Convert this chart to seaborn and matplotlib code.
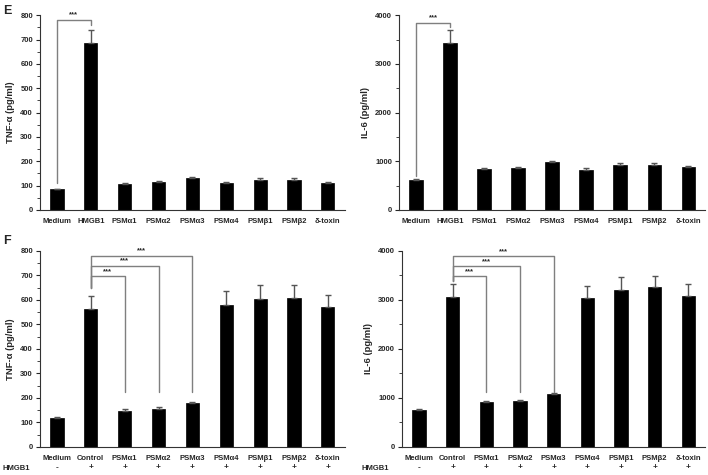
import numpy as np
import pandas as pd
import matplotlib
matplotlib.use('Agg')
import matplotlib.pyplot as plt
from matplotlib.ticker import MultipleLocator
import seaborn as sns

# categories
cats_e = ['Medium', 'HMGB1', 'PSMα1', 'PSMα2', 'PSMα3', 'PSMα4', 'PSMβ1', 'PSMβ2', 'δ-toxin']
cats_f = ['Medium', 'Control', 'PSMα1', 'PSMα2', 'PSMα3', 'PSMα4', 'PSMβ1', 'PSMβ2', 'δ-toxin']
hmgb1_row = ['-', '+', '+', '+', '+', '+', '+', '+', '+']

# panel E values (mean, upper error)
tnf_e = [85, 685, 105, 113, 130, 110, 125, 125, 110]
tnf_e_err = [3, 53, 6, 6, 6, 6, 6, 6, 6]
il6_e = [610, 3435, 840, 860, 975, 830, 930, 930, 875]
il6_e_err = [30, 260, 30, 30, 30, 30, 30, 30, 30]

# panel F values
tnf_f = [118, 563, 148, 157, 180, 580, 605, 608, 570]
tnf_f_err = [3, 55, 5, 5, 5, 58, 55, 55, 52]
il6_f = [760, 3060, 910, 930, 1075, 3040, 3205, 3260, 3080]
il6_f_err = [20, 265, 30, 30, 30, 245, 255, 235, 245]

sns.set_style('white')
plt.rcParams['font.family'] = ['Liberation Sans', 'DejaVu Sans']
plt.rcParams['font.weight'] = 'bold'

fig = plt.figure(figsize=(7.08, 4.75), dpi=100)
ax_tl = fig.add_axes([0.0565, 0.558, 0.4305, 0.41])
ax_tr = fig.add_axes([0.5636, 0.558, 0.4324, 0.41])
ax_bl = fig.add_axes([0.0565, 0.059, 0.4305, 0.4126])
ax_br = fig.add_axes([0.568, 0.059, 0.428, 0.4126])

gray = '#7f7f7f'


def draw(ax, cats, vals, errs, ymax, major, minor, ylabel):
    df = pd.DataFrame({'cat': cats, 'val': vals})
    sns.barplot(data=df, x='cat', y='val', color='black', width=0.39,
                saturation=1, edgecolor='black', linewidth=0.5, ax=ax)
    x = np.arange(len(cats))
    ax.errorbar(x, vals, yerr=[np.zeros(len(vals)), errs], fmt='none',
                ecolor='#555555', elinewidth=1, capsize=2, capthick=1)
    ax.set_xlim(-0.5, len(cats) - 0.5)
    ax.set_ylim(0, ymax)
    ax.yaxis.set_major_locator(MultipleLocator(major))
    ax.yaxis.set_minor_locator(MultipleLocator(minor))
    ax.tick_params(axis='y', which='major', length=3, width=0.8, direction='out',
                   labelsize=5.5, pad=2, left=True)
    ax.tick_params(axis='y', which='minor', length=2, width=0.6, direction='out', left=True)
    ax.tick_params(axis='x', length=0, labelsize=5.5, pad=6)
    for lab in ax.get_xticklabels() + ax.get_yticklabels():
        lab.set_fontweight('bold')
    ax.set_xlabel('')
    ax.set_ylabel(ylabel, fontsize=6.8, fontweight='bold', labelpad=4)
    for s in ['top', 'right']:
        ax.spines[s].set_visible(False)
    for s in ['left', 'bottom']:
        ax.spines[s].set_color('#333333')
        ax.spines[s].set_linewidth(0.8)


def bracket(ax, x1, x2, h, y1, y2, txt_off):
    ax.plot([x1, x1, x2, x2], [y1, h, h, y2], color=gray, lw=1)
    ax.text((x1 + x2) / 2, h + txt_off, '***', ha='center', va='bottom',
            fontsize=5.5, fontweight='bold')


draw(ax_tl, cats_e, tnf_e, tnf_e_err, 800, 100, 50, 'TNF-α (pg/ml)')
bracket(ax_tl, 0, 1, 782, 110, 760, 5)

draw(ax_tr, cats_e, il6_e, il6_e_err, 4000, 1000, 500, 'IL-6 (pg/ml)')
bracket(ax_tr, 0, 1, 3850, 700, 3760, 25)

draw(ax_bl, cats_f, tnf_f, tnf_f_err, 800, 100, 50, 'TNF-α (pg/ml)')
for k, h in zip([2, 3, 4], [698, 739, 780]):
    bracket(ax_bl, 1, k, h, 649, 225, 5)

draw(ax_br, cats_f, il6_f, il6_f_err, 4000, 1000, 500, 'IL-6 (pg/ml)')
for k, h in zip([2, 3, 4], [3490, 3694, 3898]):
    bracket(ax_br, 1, k, h, 3390, 1124, 25)

# HMGB1 +/- row under panel F
for ax in [ax_bl, ax_br]:
    trans = ax.get_xaxis_transform()
    for i, s in enumerate(hmgb1_row):
        ax.text(i, -0.105, s, transform=trans, ha='center', va='center',
                fontsize=6, fontweight='bold')
fig.text(0.003, 1 - 468 / 475, 'HMGB1', ha='left', va='center', fontsize=5.5, fontweight='bold')
fig.text(0.5105, 1 - 468 / 475, 'HMGB1', ha='left', va='center', fontsize=5.5, fontweight='bold')

fig.text(0.004, 0.99, 'E', ha='left', va='top', fontsize=9, fontweight='bold')
fig.text(0.004, 0.505, 'F', ha='left', va='top', fontsize=9, fontweight='bold')

fig.savefig('out.png', dpi=100)
